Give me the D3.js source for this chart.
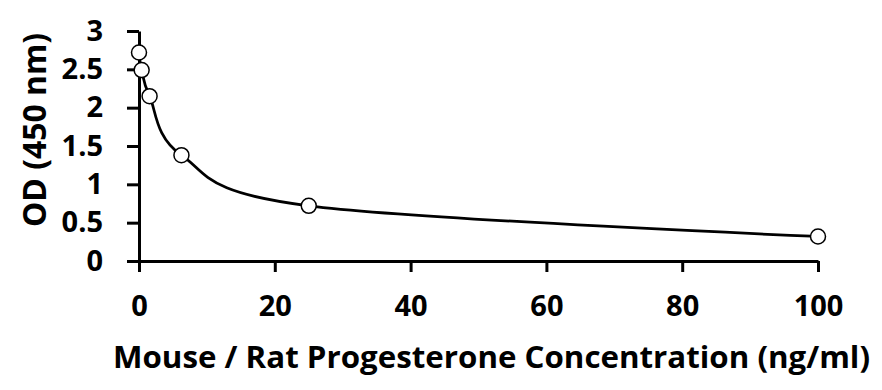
<!DOCTYPE html>
<html>
<head>
<meta charset="utf-8">
<script src="https://cdn.jsdelivr.net/npm/d3@7"></script>
<style>
  body { margin: 0; background: #fff; }
</style>
</head>
<body>
<div id="chart"></div>
<script>
// Standard curve readings (concentration in ng/ml, OD at 450 nm)
const concentrations = [0, 0.39, 1.56, 6.25, 25, 100];
const odValues = [2.72, 2.49, 2.15, 1.38, 0.72, 0.32];
const xTicks = [0, 20, 40, 60, 80, 100];
const yTicks = [0, 0.5, 1, 1.5, 2, 2.5, 3];
const xTitle = "Mouse / Rat Progesterone Concentration (ng/ml)";
const yTitle = "OD (450 nm)";

const width = 882;
const height = 390;
const marginTop = 31;
const marginRight = 64;
const marginBottom = 129;
const marginLeft = 139;

const font = "'Open Sans', 'Noto Sans', sans-serif";

const points = concentrations.map((c, i) => ({ x: c, y: odValues[i] }));

const x = d3.scaleLinear().domain([0, 100]).range([marginLeft, width - marginRight]);
const y = d3.scaleLinear().domain([0, 3]).range([height - marginBottom, marginTop]);

const svg = d3.create("svg").attr("width", width).attr("height", height);

// x axis
svg.append("g")
  .attr("transform", `translate(0,${height - marginBottom})`)
  .call(d3.axisBottom(x).tickValues(xTicks).tickSize(11).tickPadding(23).tickSizeOuter(0))
  .call((g) => g.select(".domain").attr("stroke", "#000").attr("stroke-width", 3))
  .call((g) => g.selectAll(".tick line").attr("stroke", "#000").attr("stroke-width", 3))
  .call((g) => g.selectAll(".tick text")
    .attr("fill", "#000")
    .attr("font-family", font)
    .attr("font-weight", "bold")
    .attr("font-size", 29));

// y axis
svg.append("g")
  .attr("transform", `translate(${marginLeft},0)`)
  .call(d3.axisLeft(y).tickValues(yTicks).tickFormat(d3.format("")).tickSize(12).tickPadding(24).tickSizeOuter(0))
  .call((g) => g.select(".domain").attr("stroke", "#000").attr("stroke-width", 3))
  .call((g) => g.selectAll(".tick line").attr("stroke", "#000").attr("stroke-width", 3))
  .call((g) => g.selectAll(".tick text")
    .attr("fill", "#000")
    .attr("font-family", font)
    .attr("font-weight", "bold")
    .attr("font-size", 29));

// smoothed curve
const line = d3.line()
  .x((d) => x(d.x))
  .y((d) => y(d.y))
  .curve(d3.curveCardinal.tension(0));

svg.append("path")
  .datum(points)
  .attr("fill", "none")
  .attr("stroke", "#000")
  .attr("stroke-width", 2.75)
  .attr("d", line);

// markers
svg.append("g")
  .selectAll("circle")
  .data(points)
  .join("circle")
  .attr("cx", (d) => x(d.x))
  .attr("cy", (d) => y(d.y))
  .attr("r", 7.5)
  .attr("fill", "#fff")
  .attr("stroke", "#000")
  .attr("stroke-width", 1.5);

// axis titles
svg.append("text")
  .attr("x", 113)
  .attr("y", 368)
  .attr("fill", "#000")
  .attr("font-family", font)
  .attr("font-weight", "bold")
  .attr("font-size", 31)
  .attr("textLength", 757)
  .attr("lengthAdjust", "spacingAndGlyphs")
  .text(xTitle);

svg.append("text")
  .attr("transform", "translate(46,130) rotate(-90)")
  .attr("text-anchor", "middle")
  .attr("fill", "#000")
  .attr("font-family", font)
  .attr("font-weight", "bold")
  .attr("font-size", 32)
  .attr("textLength", 194)
  .attr("lengthAdjust", "spacingAndGlyphs")
  .text(yTitle);

d3.select("#chart").node().appendChild(svg.node());
</script>
</body>
</html>
